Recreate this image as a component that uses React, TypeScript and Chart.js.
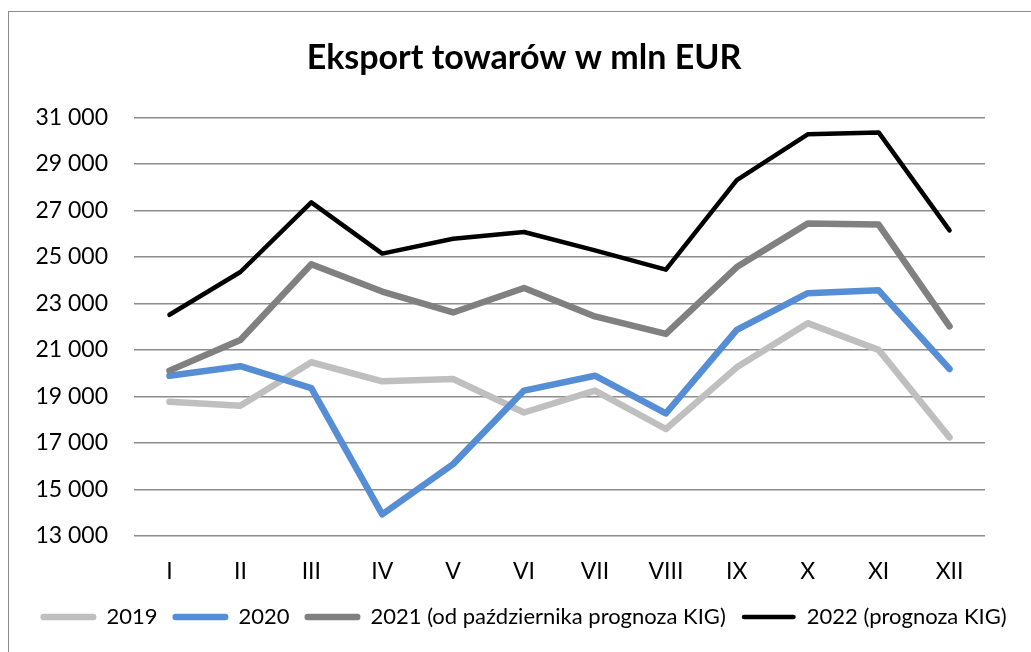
import React, { useEffect, useRef } from 'react';
import { Chart, registerables } from 'chart.js';

Chart.register(...registerables);

const months = ['I', 'II', 'III', 'IV', 'V', 'VI', 'VII', 'VIII', 'IX', 'X', 'XI', 'XII'];
const y2019 = [18770, 18600, 20470, 19650, 19750, 18310, 19250, 17600, 20250, 22150, 21000, 17240];
const y2020 = [19890, 20300, 19360, 13930, 16090, 19250, 19890, 18270, 21860, 23440, 23560, 20180];
const y2021 = [20110, 21430, 24680, 23510, 22610, 23660, 22440, 21690, 24560, 26430, 26390, 22010];
const y2022 = [22510, 24350, 27340, 25140, 25780, 26070, 25280, 24450, 28300, 30270, 30350, 26140];
const seriesNames = ['2019', '2020', '2021 (od października prognoza KIG)', '2022 (prognoza KIG)'];
const titleText = 'Eksport towarów w mln EUR';
const yMin = 13000;
const yMax = 31000;
const yStep = 2000;

const FAMILY = 'Lato, "Open Sans", sans-serif';

function fmt(v: number): string {
  return Math.round(v).toString().replace(/\B(?=(\d{3})+(?!\d))/g, ' ');
}

function mk(label: string, data: number[], color: string, width: number, order: number) {
  return {
    label,
    data,
    borderColor: color,
    backgroundColor: color,
    borderWidth: width,
    borderCapStyle: 'round' as const,
    borderJoinStyle: 'round' as const,
    pointRadius: 0,
    pointHoverRadius: 0,
    tension: 0,
    fill: false,
    order,
  };
}

export default function App() {
  const ref = useRef<HTMLCanvasElement>(null);

  useEffect(() => {
    const canvas = ref.current!;
    const chart = new Chart(canvas, {
      type: 'line',
      data: {
        labels: months,
        datasets: [
          mk(seriesNames[0], y2019, '#BFBFBF', 6.5, 4),
          mk(seriesNames[1], y2020, '#558ED5', 6.5, 3),
          mk(seriesNames[2], y2021, '#808080', 6.5, 2),
          mk(seriesNames[3], y2022, '#000000', 4.5, 1),
        ],
      },
      options: {
        responsive: false,
        animation: false,
        devicePixelRatio: 1,
        layout: { padding: { left: 0, right: 0, top: 0, bottom: 14 } },
        plugins: {
          title: {
            display: true,
            text: titleText,
            color: '#000',
            font: { family: FAMILY, size: 34, weight: 'bold' },
            padding: { top: 26.6, bottom: 38.9 },
          },
          legend: {
            position: 'bottom',
            labels: {
              color: '#000',
              font: { family: FAMILY, size: 22 },
              boxWidth: 54,
              boxHeight: 4.5,
              padding: 16,
              useBorderRadius: true,
              borderRadius: 2.25,
              generateLabels: (c: any) => {
                const items = (Chart.defaults.plugins.legend.labels as any).generateLabels(c);
                items.sort((a: any, b: any) => a.datasetIndex - b.datasetIndex);
                return items.map((it: any) => {
                  const ds: any = c.data.datasets[it.datasetIndex];
                  return {
                    ...it,
                    fillStyle: ds.borderColor,
                    strokeStyle: ds.borderColor,
                    lineWidth: ds.borderWidth - 4.5,
                    borderRadius: 2.25,
                  };
                });
              },
            },
          },
          tooltip: { enabled: false },
        },
        scales: {
          x: {
            offset: true,
            grid: { display: false, drawTicks: false, offset: true },
            border: { display: false },
            ticks: { color: '#000', font: { family: FAMILY, size: 23 }, padding: 22 },
            afterFit: (s: any) => {
              s.height = 54;
            },
          },
          y: {
            min: yMin,
            max: yMax,
            grid: { color: '#8C8C8C', lineWidth: 1.5, drawTicks: false },
            border: { display: false },
            ticks: {
              stepSize: yStep,
              padding: 26,
              color: '#000',
              font: { family: FAMILY, size: 23 },
              callback: (v: any) => fmt(Number(v)),
            },
            afterFit: (s: any) => {
              s.width = 126;
            },
          },
          y2: {
            position: 'right',
            display: true,
            grid: { display: false, drawTicks: false },
            border: { display: false },
            ticks: { display: false },
            afterFit: (s: any) => {
              s.width = 55;
            },
          },
        },
      } as any,
    });
    return () => chart.destroy();
  }, []);

  return (
    <div style={{ position: 'fixed', left: 0, top: 0, width: 1031, height: 652, overflow: 'hidden', background: '#fff' }}>
      <div
        style={{
          position: 'absolute',
          left: 8,
          top: 11,
          width: 1060,
          height: 700,
          border: '1.5px solid #8C8C8C',
          boxSizing: 'border-box',
        }}
      />
      <canvas ref={ref} width={1032} height={641} style={{ position: 'absolute', left: 8, top: 11, width: 1032, height: 641 }} />
    </div>
  );
}
